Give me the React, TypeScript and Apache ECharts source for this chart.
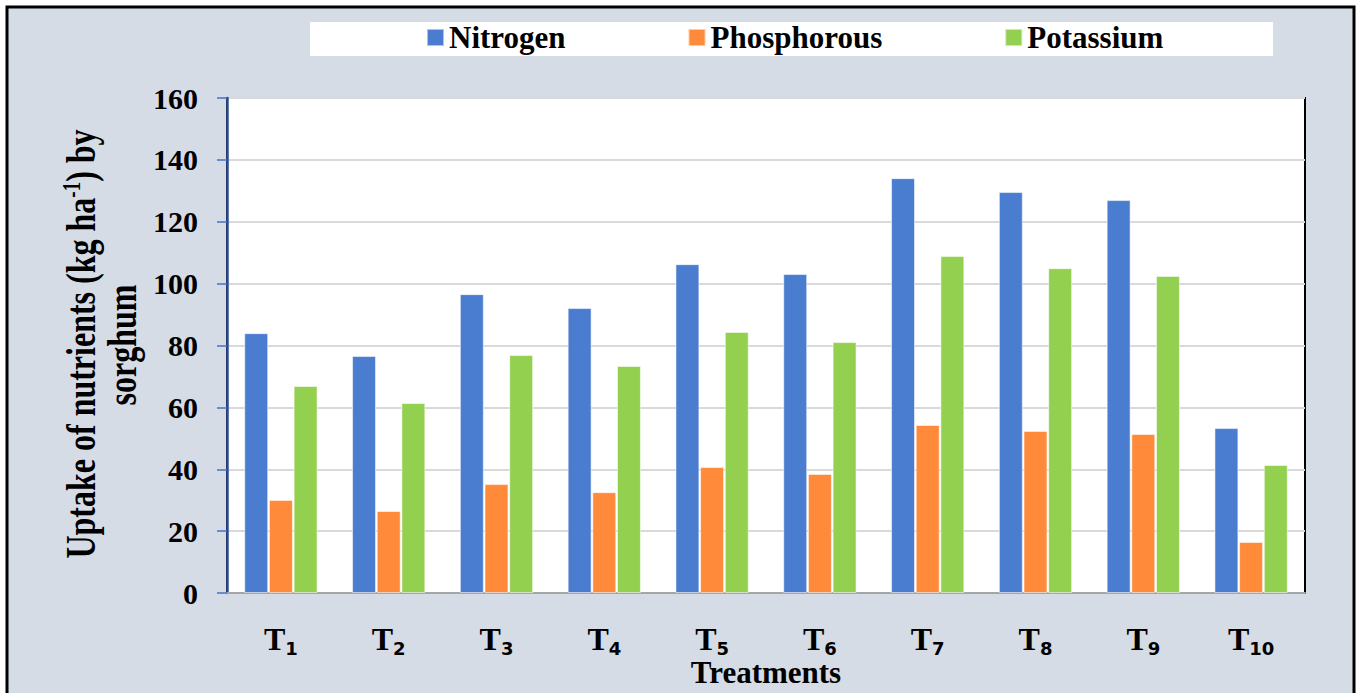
import React, { useEffect, useRef } from "react";
import * as echarts from "echarts";

const categories = ["T1", "T2", "T3", "T4", "T5", "T6", "T7", "T8", "T9", "T10"];
const nitrogen = [84.0, 76.6, 96.6, 92.1, 106.3, 103.1, 134.1, 129.6, 127.0, 53.3];
const phosphorous = [30.1, 26.5, 35.2, 32.6, 40.7, 38.5, 54.3, 52.4, 51.4, 16.5];
const potassium = [66.9, 61.4, 76.9, 73.4, 84.4, 81.1, 108.9, 105.0, 102.5, 41.4];
const seriesNames = ["Nitrogen", "Phosphorous", "Potassium"];
const colors = ["#4A7CD0", "#FE8A3A", "#93D050"];

const SERIF = "'Liberation Serif', 'Times New Roman', serif";

export default function App() {
  const ref = useRef<HTMLDivElement>(null);
  useEffect(() => {
    if (!ref.current) return;
    const chart = echarts.init(ref.current, null, { renderer: "svg" });
    const mk = (name: string, data: number[], color: string) => ({
      name,
      type: "bar",
      data,
      barGap: "3%",
      barCategoryGap: "32%",
      itemStyle: { color, borderColor: "rgba(255,255,255,0.55)", borderWidth: 1 },
    });
    chart.setOption({
      animation: false,
      backgroundColor: "#ffffff",
      color: colors,
      graphic: [
        {
          type: "rect",
          z: -10,
          shape: { x: 7, y: 7, width: 1347, height: 700 },
          style: { fill: "#D6DCE5", stroke: "#000", lineWidth: 3 },
        },
        {
          type: "rect",
          z: -5,
          shape: { x: 310, y: 22, width: 963, height: 34 },
          style: { fill: "#ffffff" },
        },
        {
          type: "text",
          x: 80,
          y: 344,
          rotation: Math.PI / 2,
          scaleY: 1.35,
          style: {
            text: "Uptake of nutrients (kg ha{sup|-1}) by",
            fontFamily: SERIF,
            fontWeight: "bold",
            fontSize: 32,
            fill: "#000",
            align: "center",
            verticalAlign: "middle",
            rich: {
              sup: { fontFamily: SERIF, fontWeight: "bold", fontSize: 19, verticalAlign: "top", lineHeight: 32, fill: "#000" },
            },
          },
        },
        {
          type: "text",
          x: 121,
          y: 345,
          rotation: Math.PI / 2,
          scaleY: 1.35,
          style: {
            text: "sorghum",
            fontFamily: SERIF,
            fontWeight: "bold",
            fontSize: 32,
            fill: "#000",
            align: "center",
            verticalAlign: "middle",
          },
        },
      ],
      legend: {
        data: seriesNames,
        left: 426,
        top: 22,
        padding: 0,
        itemGap: 122,
        itemWidth: 17,
        itemHeight: 17,
        icon: "rect",
        textStyle: { fontFamily: SERIF, fontWeight: "bold", fontSize: 31, color: "#000" },
      },
      grid: {
        left: 227,
        top: 98,
        width: 1078,
        height: 495,
        outerBoundsMode: "none",
        containLabel: false,
        show: true,
        backgroundColor: "#ffffff",
        borderColor: "#000",
        borderWidth: 2,
      },
      xAxis: {
        type: "category",
        data: categories,
        name: "Treatments",
        nameLocation: "middle",
        nameGap: 79,
        nameMoveOverlap: false,
        nameTextStyle: { fontFamily: SERIF, fontWeight: "bold", fontSize: 31, lineHeight: 26, color: "#000", verticalAlign: "middle" },
        axisLine: { lineStyle: { color: "#A6A6A6", width: 2 } },
        axisTick: { show: false },
        axisLabel: {
          margin: 27,
          formatter: (v: string) => `{t|T}{s|${v.slice(1)}}`,
          rich: {
            t: { fontFamily: SERIF, fontWeight: "bold", fontSize: 32, color: "#000", verticalAlign: "middle", lineHeight: 28 },
            s: { fontFamily: "'DejaVu Sans', sans-serif", fontWeight: "bold", fontSize: 18, color: "#000", verticalAlign: "bottom", lineHeight: 37 },
          },
        },
      },
      yAxis: {
        type: "value",
        min: 0,
        max: 160,
        interval: 20,
        axisLine: { show: true, lineStyle: { color: "#2F4E8E", width: 2.5 } },
        axisTick: { show: true, length: 10, lineStyle: { color: "#4472C4", width: 1.5 } },
        axisLabel: { margin: 29, fontFamily: SERIF, fontWeight: "bold", fontSize: 30, color: "#000" },
        splitLine: { lineStyle: { color: "#D9D9D9", width: 2 } },
      },
      series: [
        mk(seriesNames[0], nitrogen, colors[0]),
        mk(seriesNames[1], phosphorous, colors[1]),
        mk(seriesNames[2], potassium, colors[2]),
      ],
    });
    return () => chart.dispose();
  }, []);
  return (
    <div style={{ position: "fixed", left: 0, top: 0, width: 1362, height: 693 }}>
      <div ref={ref} style={{ width: 1362, height: 693 }} />
    </div>
  );
}
